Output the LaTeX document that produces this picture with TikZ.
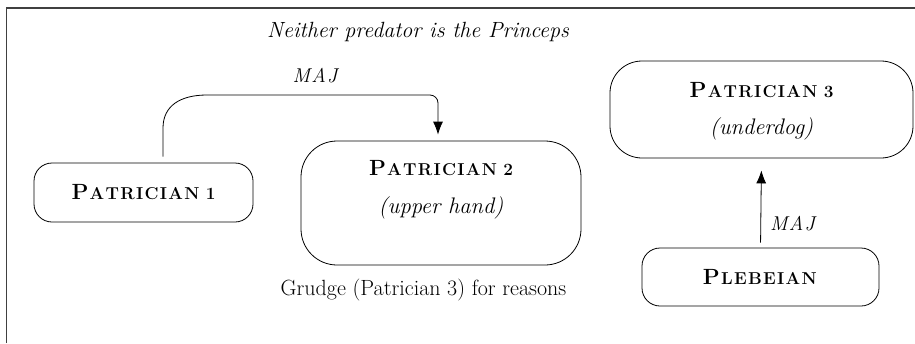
\documentclass[tikz,border=0pt]{standalone}
\usepackage{fontspec}
\usetikzlibrary{arrows.meta}
\makeatletter
\newcommand{\lspc}[1]{\@tfor\@l:=#1\do{\@l\kern1.3pt}}
\makeatother
\newcommand{\bsc}[3]{{\bfseries\fontsize{22}{24}\selectfont#1\kern1.3pt{\fontsize{17.2}{24}\selectfont\lspc{#2}\ifx\relax#3\relax\else\kern5pt#3\fi}}}
\begin{document}
\begin{tikzpicture}[x=1pt,y=-1pt,
  box/.style={draw, line width=0.8pt, inner sep=0pt},
  lbl/.style={anchor=base, inner sep=0pt},
  captext/.style={lbl, font=\itshape\fontsize{22.5}{26}\selectfont},
  edgelbl/.style={lbl, font=\itshape\fontsize{20}{22}\selectfont},
  conn/.style={line width=0.8pt, -{Latex[length=13pt,width=10pt]}},
]
\useasboundingbox (0,0) rectangle (915,343);
\draw[line width=1.3pt, black!75] (6.5,343) -- (6.5,8) -- (915,8);

\node[lbl, font=\itshape\fontsize{22}{26}\selectfont] (title) at (418,37) {Neither predator is the Princeps};

\node[box, minimum width=219pt, minimum height=59pt, rounded corners=18pt] (p1) at (143.5,192.5) {\bsc{P}{ATRICIAN}{1}};

\node[box, minimum width=280pt, minimum height=124pt, rounded corners=36pt] (p2) at (441,203) {};
\node[lbl] (p2a) at (441,175) {\bsc{P}{ATRICIAN}{2}};
\node[captext] (p2b) at (441,213) {(upper hand)};
\node[lbl, font=\fontsize{22}{26}\selectfont] (grudge) at (423.5,295) {Grudge (Patrician 3) for reasons};

\node[box, minimum width=303pt, minimum height=97pt, rounded corners=32pt] (p3) at (761.5,109.5) {};
\node[lbl] (p3a) at (761.5,97) {\bsc{P}{ATRICIAN}{3}};
\node[captext] (p3b) at (761.5,134) {(underdog)};

\node[box, minimum width=237pt, minimum height=58pt, rounded corners=18pt] (pl) at (760.5,277) {\bsc{P}{LEBEIAN}{}};

\coordinate (s1) at ([xshift=19.5pt]p1.north);
\draw[conn, shorten <=6pt, shorten >=6pt] (s1) -- (163,128) .. controls (163,106) and (180,95) .. (207,95) -- (430,95) .. controls (434.4,95) and (438,98.6) .. (438,103) -- ([xshift=-3pt]p2.north);
\node[edgelbl] (maj1) at (315,82) {M\kern1.2pt A\kern1.2pt J};

\draw[conn, shorten <=5pt, shorten >=12pt] (pl.north) -- (p3.south);
\node[edgelbl, anchor=base west] (maj2) at (770,230) {M\kern1.2pt A\kern1.2pt J};
\end{tikzpicture}
\end{document}
